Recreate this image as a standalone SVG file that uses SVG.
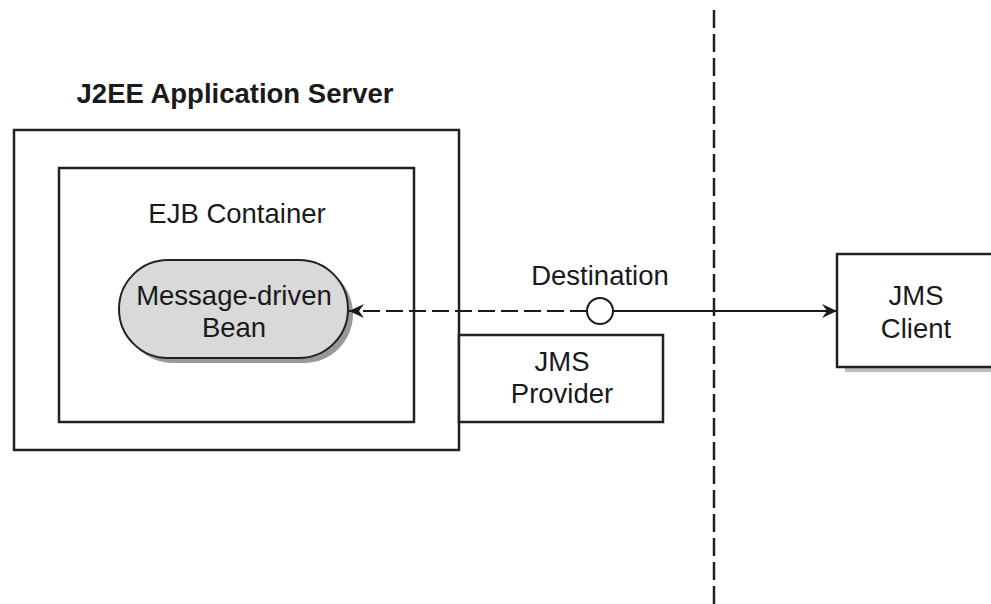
<svg xmlns="http://www.w3.org/2000/svg" width="991" height="604" viewBox="0 0 991 604">
<defs>
<style>
.box{fill:#fff;stroke:#222;stroke-width:2.5}
.t{font-family:"Liberation Sans",Arial,sans-serif;font-size:27.5px;fill:#1a1a1a;text-anchor:middle}
.b{font-weight:bold;font-size:27.5px}
.ln{fill:none;stroke:#1a1a1a;stroke-width:2}
</style>
<marker id="arr" markerUnits="userSpaceOnUse" markerWidth="16" markerHeight="14" refX="15" refY="7" orient="auto">
<path d="M0,0 L15,7 L0,14 L5,7 Z" fill="#1a1a1a"/>
</marker>
</defs>
<rect width="991" height="604" fill="#fff"/>
<line x1="714" y1="10" x2="714" y2="604" stroke="#222" stroke-width="2.5" stroke-dasharray="18 6"/>
<g id="server">
<rect class="box" x="14" y="130" width="445" height="320"/>
<text class="t b" x="235" y="103">J2EE Application Server</text>
</g>
<g id="container">
<rect class="box" x="59" y="168" width="355" height="254"/>
<text class="t" x="237" y="223">EJB Container</text>
</g>
<g id="bean">
<rect x="124" y="265" width="229" height="98" rx="49" fill="#999"/>
<rect x="119" y="260" width="229" height="98" rx="49" fill="#d9d9d9" stroke="#222" stroke-width="2"/>
<text class="t" x="234" y="305">Message-driven</text>
<text class="t" x="234" y="337">Bean</text>
</g>
<g id="provider">
<rect class="box" x="459" y="335" width="204" height="87"/>
<text class="t" x="562" y="371">JMS</text>
<text class="t" x="562" y="403">Provider</text>
</g>
<g id="client">
<rect x="845" y="366" width="160" height="6" fill="#bbb"/>
<rect class="box" x="837" y="254" width="170" height="113"/>
<text class="t" x="916" y="305">JMS</text>
<text class="t" x="916" y="338">Client</text>
</g>
<g id="destination">
<text class="t" x="600" y="285">Destination</text>
</g>
<g id="connectors">
<line class="ln" x1="587" y1="311" x2="349" y2="311" stroke-dasharray="17 6" marker-end="url(#arr)"/>
<line class="ln" x1="613" y1="311" x2="837" y2="311" marker-end="url(#arr)"/>
<circle cx="600" cy="311" r="13" fill="#fff" stroke="#1a1a1a" stroke-width="2"/>
</g>
</svg>
